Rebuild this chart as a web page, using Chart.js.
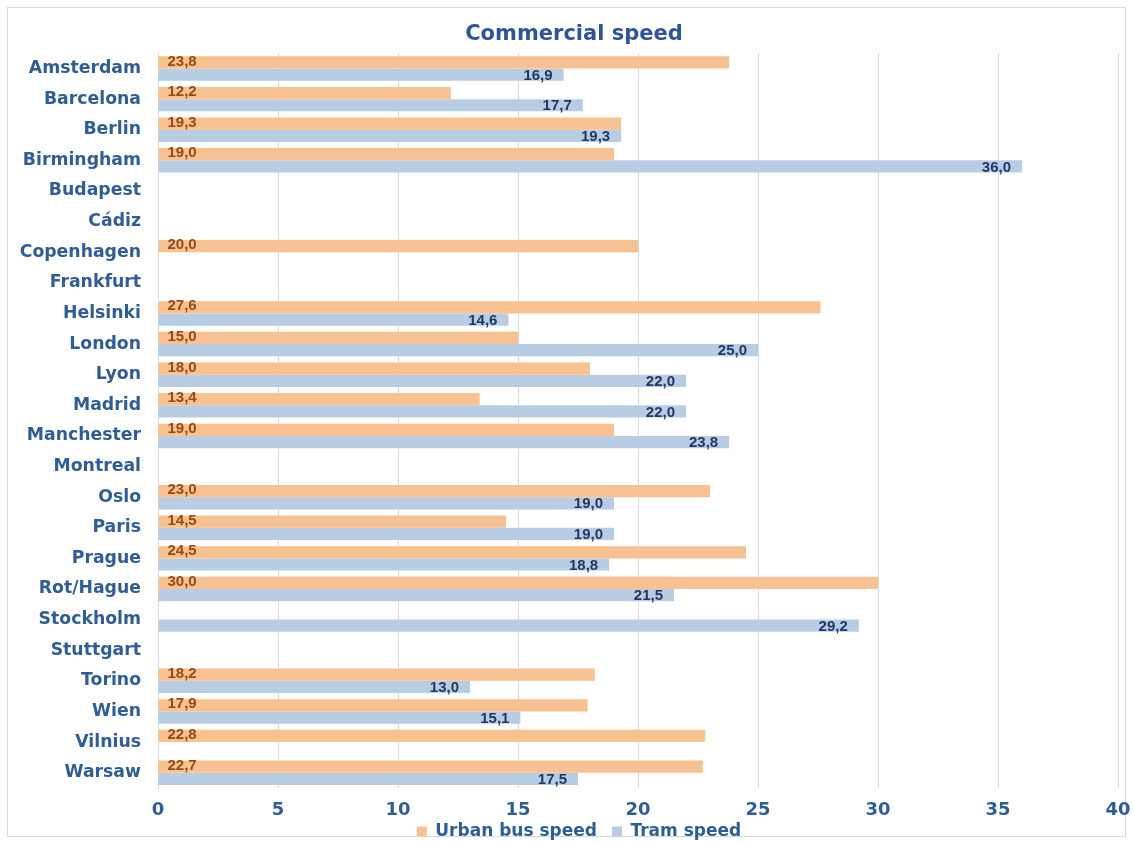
<!DOCTYPE html>
<html>
<head>
<meta charset="utf-8">
<script src="https://cdn.jsdelivr.net/npm/chart.js@4/dist/chart.umd.min.js"></script>
<style>
  html, body { margin: 0; padding: 0; background: #fff; overflow: hidden; }
  #frame { position: absolute; left: 7px; top: 7px; width: 1119px; height: 830px; border: 1px solid #d9d9d9; box-sizing: border-box; }
  #wrap { position: absolute; left: 0; top: 0; width: 1134px; height: 841px; }
</style>
</head>
<body>
<div id="frame"></div>
<div id="wrap"><canvas id="c" width="1134" height="841"></canvas></div>
<script>
const cities = ["Amsterdam","Barcelona","Berlin","Birmingham","Budapest","Cádiz","Copenhagen","Frankfurt","Helsinki","London","Lyon","Madrid","Manchester","Montreal","Oslo","Paris","Prague","Rot/Hague","Stockholm","Stuttgart","Torino","Wien","Vilnius","Warsaw"];
const busSpeed = [23.8,12.2,19.3,19.0,null,null,20.0,null,27.6,15.0,18.0,13.4,19.0,null,23.0,14.5,24.5,30.0,null,null,18.2,17.9,22.8,22.7];
const tramSpeed = [16.9,17.7,19.3,36.0,null,null,null,null,14.6,25.0,22.0,22.0,23.8,null,19.0,19.0,18.8,21.5,29.2,null,13.0,15.1,null,17.5];
const xTicks = [0,5,10,15,20,25,30,35,40];

const blueText = "#2F5D94";
const fam = "'DejaVu Sans', Verdana, sans-serif";

const barLabels = {
  id: "barLabels",
  beforeUpdate(chart) {
    const lg = chart.legend;
    if (lg && !lg._patched) {
      const orig = lg.fit.bind(lg);
      lg.fit = function () { orig(); this.height = 20; };
      lg._patched = true;
    }
  },
  afterLayout(chart) {
    const lg = chart.legend;
    if (lg) { lg.top = 808; lg.bottom = 841; lg.left += 20; lg.right += 20; }
    const tb = chart.titleBlock;
    if (tb) { tb.left += 15; tb.right += 15; }
  },
  afterDatasetsDraw(chart) {
    const ctx = chart.ctx;
    ctx.save();
    ctx.font = "bold 15px 'Liberation Sans', Arial, sans-serif";
    ctx.textBaseline = "middle";
    chart.data.datasets.forEach((ds, di) => {
      const meta = chart.getDatasetMeta(di);
      meta.data.forEach((bar, i) => {
        const v = ds.data[i];
        if (v === null || v === undefined) return;
        const txt = v.toFixed(1).replace(".", ",");
        if (di === 0) {
          ctx.fillStyle = "#9A4A10";
          ctx.textAlign = "left";
          ctx.fillText(txt, bar.base + 9, bar.y - 1);
        } else {
          ctx.fillStyle = "#203864";
          ctx.textAlign = "right";
          ctx.fillText(txt, bar.x - 11, bar.y + 1);
        }
      });
    });
    ctx.restore();
  }
};

new Chart(document.getElementById("c"), {
  type: "bar",
  data: {
    labels: cities,
    datasets: [
      { label: "Urban bus speed", data: busSpeed, backgroundColor: "#F8C191", borderWidth: 0, barPercentage: 1.0, categoryPercentage: 0.8 },
      { label: "Tram speed", data: tramSpeed, backgroundColor: "#B8CCE4", borderWidth: 0, barPercentage: 1.0, categoryPercentage: 0.8 }
    ]
  },
  options: {
    indexAxis: "y",
    responsive: false,
    animation: false,
    layout: { padding: { left: 0, right: 16, top: 10, bottom: 0 } },
    plugins: {
      title: {
        display: true,
        text: "Commercial speed",
        color: "#2F5597",
        font: { family: fam, size: 21, weight: "bold" },
        padding: { top: 12, bottom: 6 }
      },
      legend: {
        position: "bottom",
        labels: {
          color: blueText,
          font: { family: fam, size: 17, weight: "bold" },
          boxWidth: 10, boxHeight: 10, padding: 15
        }
      },
      tooltip: { enabled: false }
    },
    scales: {
      x: {
        min: 0, max: 40,
        afterBuildTicks: (axis) => { axis.ticks = xTicks.map(v => ({ value: v })); },
        afterFit: (axis) => { axis.paddingRight = 0; axis.paddingLeft = 0; axis.height = 33; },
        grid: { color: "#d9d9d9", drawTicks: false },
        border: { display: false },
        ticks: {
          color: blueText,
          padding: 12,
          font: { family: fam, size: 18, weight: "bold" }
        }
      },
      y: {
        afterFit: (axis) => { axis.width = 158; },
        grid: { display: false },
        border: { display: true, color: "#d9d9d9" },
        ticks: {
          color: blueText,
          padding: 9,
          font: { family: fam, size: 17.3, weight: "bold" }
        }
      }
    }
  },
  plugins: [barLabels]
});
</script>
</body>
</html>
